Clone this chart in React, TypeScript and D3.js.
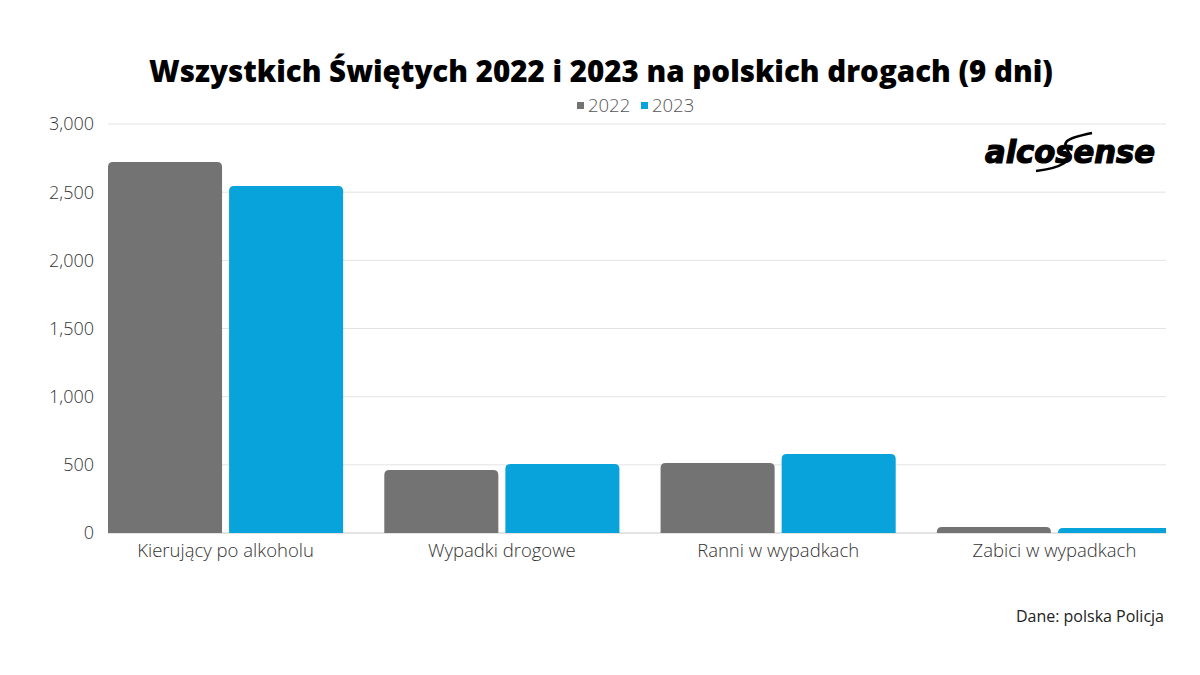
import { useEffect } from 'react'
import * as d3 from 'd3'

const categories = ['Kierujący po alkoholu', 'Wypadki drogowe', 'Ranni w wypadkach', 'Zabici w wypadkach']
const years = ['2022', '2023']
const values2022 = [2722, 462, 514, 44]
const values2023 = [2546, 506, 580, 37]
const yTicks = [0, 500, 1000, 1500, 2000, 2500, 3000]

const COLORS: Record<string, string> = { '2022': '#737373', '2023': '#08A3DA' }
const FONT = '"Open Sans", "Noto Sans", sans-serif'

const W = 1200
const H = 675
const plot = { left: 108, right: 1166, top: 124, bottom: 533 }

// rounded top corners only
function barPath(x: number, y: number, w: number, h: number, r: number) {
  const rr = Math.min(r, h, w / 2)
  return `M${x},${y + h}V${y + rr}Q${x},${y} ${x + rr},${y}H${x + w - rr}Q${x + w},${y} ${x + w},${y + rr}V${y + h}Z`
}

export default function App() {
  useEffect(() => {
    document.body.style.margin = '0'
  }, [])

  const x0 = d3.scaleBand<string>().domain(categories).range([plot.left, 1172]).paddingInner(0.149).paddingOuter(0)
  const x1 = d3.scaleBand<string>().domain(years).range([0, x0.bandwidth()]).paddingInner(0.058)
  const y = d3.scaleLinear().domain([0, 3000]).range([plot.bottom, plot.top])
  const fmt = d3.format(',')

  const series: Record<string, number[]> = { '2022': values2022, '2023': values2023 }

  return (
    <svg width={W} height={H} style={{ display: 'block', background: '#fff' }}>
      <defs>
        <clipPath id="plotClip">
          <rect x={plot.left} y={0} width={plot.right - plot.left} height={plot.bottom} />
        </clipPath>
      </defs>

      {/* Title */}
      <text x={601} y={82} textAnchor="middle" fontFamily={FONT} fontWeight={800} fontSize={29.5} fill="#000">
        Wszystkich Świętych 2022 i 2023 na polskich drogach (9 dni)
      </text>

      {/* Legend */}
      <g fontFamily={FONT} fontWeight={300} fontSize={18.5} fill="#555">
        <rect x={577} y={102} width={7} height={7} fill={COLORS['2022']} />
        <text x={588} y={112}>2022</text>
        <rect x={641} y={102} width={7} height={7} fill={COLORS['2023']} />
        <text x={652} y={112}>2023</text>
      </g>

      {/* Gridlines and y labels */}
      {yTicks.map((t) => (
        <g key={t}>
          <line x1={plot.left} x2={plot.right} y1={y(t)} y2={y(t)} stroke={t === 0 ? '#c8c8c8' : '#e3e3e3'} strokeWidth={1} />
          <text x={94} y={y(t)} dy="0.36em" textAnchor="end" fontFamily={FONT} fontWeight={300} fontSize={18} fill="#333">
            {fmt(t)}
          </text>
        </g>
      ))}

      {/* Bars */}
      <g clipPath="url(#plotClip)">
        {categories.map((c, i) =>
          years.map((yr) => {
            const v = series[yr][i]
            const bx = (x0(c) ?? 0) + (x1(yr) ?? 0)
            const by = y(v)
            return (
              <path key={c + yr} d={barPath(bx, by, x1.bandwidth(), plot.bottom - by, 5)} fill={COLORS[yr]} />
            )
          })
        )}
      </g>

      {/* X labels */}
      {categories.map((c) => (
        <text key={c} x={(x0(c) ?? 0) + x0.bandwidth() / 2} y={557} textAnchor="middle" fontFamily={FONT} fontWeight={300} fontSize={18.5} fill="#333">
          {c}
        </text>
      ))}

      {/* Source */}
      <text x={1164} y={622} textAnchor="end" fontFamily={FONT} fontSize={16} fill="#222">
        Dane: polska Policja
      </text>

      {/* Logo */}
      <g>
        <text x={985} y={163} fontFamily='"DejaVu Sans Condensed", "DejaVu Sans", sans-serif' fontWeight="bold" fontStyle="italic" fontSize={32} fill="#000" stroke="#000" strokeWidth={1.2} textLength={170} lengthAdjust="spacingAndGlyphs">
          alcosense
        </text>
        <path d="M1036,171 C1062,168 1074,160 1068,151 C1063,143 1062,139 1092,133" fill="none" stroke="#000" strokeWidth={2.5} />
      </g>
    </svg>
  )
}
